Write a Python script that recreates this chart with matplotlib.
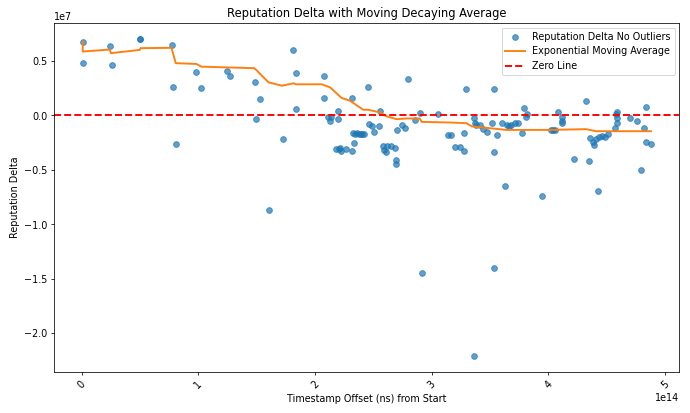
import numpy as np
import matplotlib
matplotlib.use("Agg")
import matplotlib.pyplot as plt

# Scatter data: timestamp offset (units of 1e14 ns), reputation delta (units of 1e7)
ts_e14 = [0.01, 0.01, 0.241, 0.261, 0.500, 0.502, 0.773, 0.785, 0.807, 0.984,
          1.027, 1.249, 1.275, 1.488, 1.494, 1.528, 1.610, 1.722, 1.810, 1.836,
          1.836, 2.078, 2.078, 2.109, 2.132, 2.138, 2.178, 2.195, 2.198, 2.209,
          2.215, 2.226, 2.266, 2.317, 2.320, 2.323, 2.334, 2.345, 2.360, 2.375,
          2.390, 2.405, 2.420, 2.456, 2.462, 2.486, 2.505, 2.548, 2.556, 2.580,
          2.595, 2.610, 2.617, 2.651, 2.685, 2.693, 2.693, 2.699, 2.742, 2.773,
          2.800, 2.853, 2.904, 2.913, 3.055, 3.143, 3.163, 3.197, 3.240, 3.280,
          3.280, 3.291, 3.362, 3.366, 3.371, 3.383, 3.411, 3.440, 3.474, 3.516,
          3.530, 3.536, 3.536, 3.562, 3.601, 3.630, 3.644, 3.661, 3.678, 3.716,
          3.741, 3.776, 3.787, 3.810, 3.818, 3.949, 4.026, 4.043, 4.060, 4.080,
          4.114, 4.114, 4.118, 4.222, 4.325, 4.345, 4.353, 4.379, 4.387, 4.408,
          4.422, 4.430, 4.456, 4.485, 4.513, 4.570, 4.579, 4.584, 4.584, 4.590,
          4.695, 4.755, 4.797, 4.820, 4.835, 4.835, 4.878]
delta_e7 = [0.679, 0.482, 0.636, 0.464, 0.704, 0.706, 0.649, 0.258, -0.262, 0.400,
            0.255, 0.409, 0.365, 0.310, -0.034, 0.148, -0.867, -0.216, 0.602, 0.387,
            0.058, 0.360, 0.162, -0.016, -0.050, -0.013, -0.308, -0.034, 0.040, -0.308,
            -0.295, -0.327, -0.308, -0.327, 0.162, -0.160, -0.249, -0.170, -0.165, -0.175,
            -0.170, -0.175, -0.175, 0.258, -0.077, -0.101, -0.148, -0.101, 0.042, -0.280,
            -0.317, -0.333, -0.280, -0.280, -0.299, -0.410, -0.449, -0.138, -0.089, -0.117,
            0.335, -0.046, 0.024, -1.446, 0.012, -0.179, -0.179, -0.290, -0.290, -0.157,
            -0.329, 0.243, -0.028, -2.208, -0.065, -0.087, -0.090, -0.126, -0.151, -0.065,
            -1.397, 0.243, -0.332, -0.182, -0.071, -0.649, -0.090, -0.101, -0.090, -0.065,
            -0.065, -0.160, 0.065, -0.013, 0.012, -0.740, -0.136, -0.136, -0.136, 0.033,
            -0.018, -0.055, -0.065, -0.400, 0.129, -0.415, -0.209, -0.243, -0.271, -0.212,
            -0.696, -0.194, -0.188, -0.194, -0.173, -0.111, 0.009, -0.065, -0.025, 0.033,
            -0.022, -0.050, -0.505, -0.111, 0.077, -0.240, -0.265]

# Exponential moving average line vertices
ema_ts_e14 = [0.01, 0.01, 0.241, 0.252, 0.500, 0.506, 0.771, 0.807, 0.984, 1.027,
              1.480, 1.497, 1.531, 1.602, 1.716, 1.816, 1.836, 2.058, 2.129, 2.229,
              2.300, 2.414, 2.456, 2.556, 2.614, 2.699, 2.785, 2.898, 2.913, 3.154,
              3.297, 3.345, 3.524, 3.639, 4.009, 4.322, 4.408, 4.878]
ema_e7 = [0.679, 0.587, 0.605, 0.572, 0.602, 0.618, 0.621, 0.480, 0.473, 0.448,
          0.434, 0.418, 0.380, 0.304, 0.273, 0.295, 0.286, 0.286, 0.258, 0.160,
          0.135, 0.052, 0.052, 0.028, -0.009, -0.034, -0.028, -0.028, -0.059, -0.065,
          -0.071, -0.101, -0.120, -0.133, -0.133, -0.126, -0.145, -0.145]

x = np.array(ts_e14) * 1e14
y = np.array(delta_e7) * 1e7
ex = np.array(ema_ts_e14) * 1e14
ey = np.array(ema_e7) * 1e7

fig = plt.figure(figsize=(10, 5.99), dpi=69)
ax = fig.add_subplot(111)
fig.subplots_adjust(left=0.0787, right=0.9845, top=0.9443, bottom=0.100)

ax.scatter(x, y, alpha=0.7, label="Reputation Delta No Outliers")
ax.plot(ex, ey, color="tab:orange", linewidth=2, label="Exponential Moving Average")
ax.axhline(0, color="red", linestyle="--", linewidth=2, label="Zero Line")

ax.set_title("Reputation Delta with Moving Decaying Average")
ax.set_xlabel("Timestamp Offset (ns) from Start")
ax.set_ylabel("Reputation Delta")
ax.legend(loc="upper right")
plt.setp(ax.get_xticklabels(), rotation=45)

fig.savefig("out.png", dpi=69)
